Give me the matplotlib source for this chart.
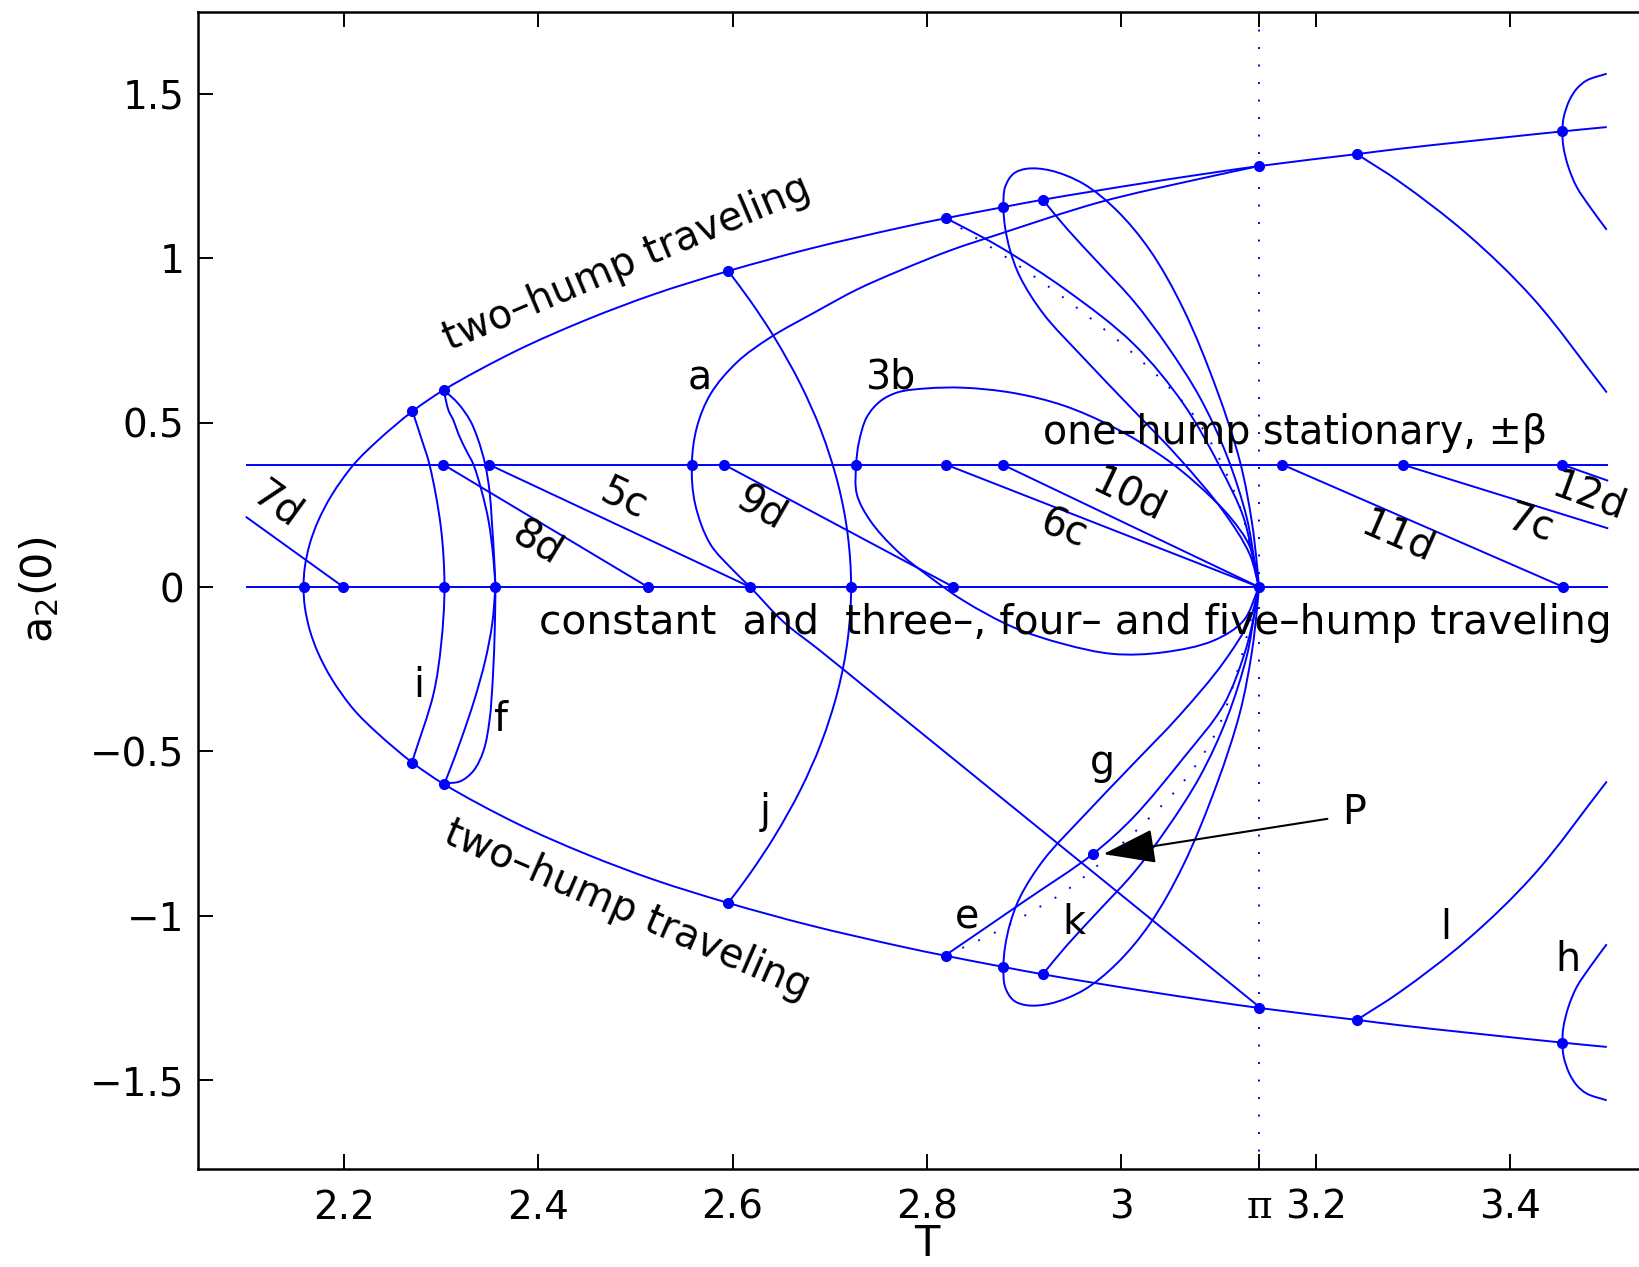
import numpy as np
import matplotlib.pyplot as plt
from matplotlib.path import Path
from matplotlib.patches import PathPatch

plt.rcParams['font.family'] = ['DejaVu Sans']

PI = np.pi
BETA = 0.372                # one-hump stationary level
T_START, T_END = 2.1, 3.5

# two-hump traveling branch (upper half; the lower half is its mirror image)
two_hump_T = [2.1586, 2.1599, 2.1649, 2.1735, 2.1877, 2.2102, 2.2350, 2.2704, 2.3036, 2.3780,
              2.4500, 2.5200, 2.5952, 2.6800, 2.7724, 2.8198, 2.8787, 2.9192, 3.0300, PI,
              3.2424, 3.2868, 3.4538, 3.4995]
two_hump_a = [0.0, 0.0600, 0.1300, 0.2000, 0.2800, 0.3724, 0.4454, 0.5336, 0.6005, 0.7190,
              0.8130, 0.8910, 0.9605, 1.0290, 1.0925, 1.1217, 1.1553, 1.1777, 1.2313, 1.2800,
              1.3164, 1.3328, 1.3855, 1.3986]

# branch i
i_T = [2.2707, 2.2800, 2.2882, 2.2999, 2.3036, 2.3002, 2.2923, 2.2707]
i_a = [0.5345, 0.4500, 0.3720, 0.1817, 0.0, -0.1730, -0.3250, -0.5280]

# branch f (two lenses)
f_up_outer_T = [2.3026, 2.3180, 2.3300, 2.3380, 2.3455, 2.3500, 2.3523, 2.3545, 2.3561]
f_up_outer_a = [0.6005, 0.5569, 0.5063, 0.4500, 0.3724, 0.2900, 0.2020, 0.1000, 0.0]
f_up_inner_T = [2.3026, 2.3078, 2.3129, 2.3180, 2.3260, 2.3334, 2.3420, 2.3489, 2.3535, 2.3561]
f_up_inner_a = [0.6005, 0.5367, 0.5063, 0.4650, 0.4150, 0.3724, 0.2900, 0.2020, 0.1000, 0.0]
f_lo_outer_T = [2.3561, 2.3554, 2.3534, 2.3499, 2.3438, 2.3335, 2.3197, 2.3036]
f_lo_outer_a = [0.0, -0.1225, -0.2746, -0.4064, -0.4977, -0.5586, -0.5910, -0.5971]
f_lo_inner_T = [2.3561, 2.3527, 2.3455, 2.3341, 2.3215, 2.3095, 2.3036]
f_lo_inner_a = [0.0, -0.1123, -0.2239, -0.3456, -0.4571, -0.5535, -0.5971]

# branch a (from the upper pi point round to the lower pi point)
a_T = [PI, 3.0811, 2.9782, 2.8753, 2.8239, 2.7724, 2.7283, 2.6844, 2.6383, 2.6046, 2.5775,
       2.5633, 2.5581, 2.5615, 2.5770, 2.6010, 2.6181, 2.6524, 2.6901, 2.7724, 2.9373, PI]
a_a = [1.2800, 1.2415, 1.1705, 1.0741, 1.0234, 0.9626, 0.9050, 0.8350, 0.7578, 0.6836, 0.5875,
       0.4859, 0.3724, 0.2527, 0.1310, 0.0499, 0.0, -0.1060, -0.1935, -0.3912, -0.7864, -1.2760]

# branch j (upper half, mirrored below)
j_T = [2.5956, 2.6180, 2.6433, 2.6697, 2.6910, 2.7085, 2.7184, 2.7220]
j_a = [0.9605, 0.8713, 0.7577, 0.6178, 0.4758, 0.3136, 0.1614, 0.0]

# loop 3b
b3_T = [PI, 3.1325, 3.1120, 3.0776, 3.0433, 2.9919, 2.9405, 2.8890, 2.8376, 2.8000, 2.7700,
        2.7520, 2.7381, 2.7300, 2.7272, 2.7278, 2.7416, 2.7690, 2.8033, 2.8376, 2.8890,
        2.9405, 2.9919, 3.0433, 3.0948, 3.1257, PI]
b3_a = [0.0, 0.1209, 0.2121, 0.3136, 0.3947, 0.4860, 0.5519, 0.5900, 0.6060, 0.6040, 0.5920,
        0.5650, 0.5164, 0.4400, 0.3724, 0.2832, 0.2020, 0.1107, 0.0296, -0.0414, -0.1225,
        -0.1732, -0.2036, -0.1986, -0.1631, -0.1022, 0.0]

# teardrop loop through the two-hump branch near T = 2.88 (upper; mirrored below)
loop_T = [PI, 3.1320, 3.1050, 3.0600, 3.0100, 2.9600, 2.9200, 2.8959, 2.8856, 2.8804, 2.8787,
          2.8804, 2.8890, 2.9027, 2.9268, 2.9610, 2.9953, 3.0296, 3.0639, 3.0982, 3.1222,
          3.1342, 3.1395, PI]
loop_a = [0.0, 0.1000, 0.2300, 0.3900, 0.5450, 0.7000, 0.8300, 0.9423, 1.0234, 1.0940, 1.1553,
          1.2161, 1.2567, 1.2719, 1.2668, 1.2262, 1.1451, 1.0234, 0.8450, 0.6000, 0.3800,
          0.2000, 0.0700, 0.0]

# branch from T = 2.919 into (pi, 0) (upper; mirrored below as k)
k_T = [2.9192, 2.9439, 2.9782, 3.0125, 3.0468, 3.0811, 3.1085, 3.1291, 3.1370, PI]
k_a = [1.1777, 1.0900, 0.9800, 0.8700, 0.7350, 0.5750, 0.4000, 0.2100, 0.0800, 0.0]

# branch from T = 2.82 into (pi, 0): upper one, and lower one (e) through P
c6_T = [2.8198, 2.8753, 2.9439, 3.0125, 3.0639, 3.1017, 3.1257, 3.1359, PI]
c6_a = [1.1217, 1.0336, 0.9018, 0.7395, 0.5570, 0.3643, 0.2121, 0.0800, 0.0]
e_T = [2.8198, 2.9000, 2.9706, 3.0125, 3.0639, 3.1050, 3.1270, 3.1370, PI]
e_a = [-1.1184, -0.9560, -0.8121, -0.7000, -0.5200, -0.3600, -0.2000, -0.0800, 0.0]

# dotted branches
dot_up_T = [2.8198, 2.8359, 2.8839, 2.9490, 3.0228, 3.0759, 3.1200, PI]
dot_up_a = [1.1217, 1.0894, 0.9981, 0.8612, 0.6817, 0.5164, 0.2600, 0.0]
dot_lo_T = [2.8198, 2.8376, 2.8736, 2.9062, 2.9405, 2.9713, 3.0296, 3.0674, 3.0982, 3.1200, PI]
dot_lo_a = [-1.1184, -1.0960, -1.0453, -0.9896, -0.9287, -0.8577, -0.6999, -0.5788, -0.4369,
            -0.2500, 0.0]

# branches l and h at the right edge (upper; mirrored below)
l_T = [3.2424, 3.2868, 3.3554, 3.4240, 3.4995]
l_a = [1.3164, 1.2312, 1.0742, 0.8765, 0.5914]
h_T = [3.4994, 3.4789, 3.4686, 3.4610, 3.4552, 3.4538, 3.4549, 3.4600, 3.4686, 3.4823, 3.4994]
h_a = [1.5609, 1.5406, 1.5153, 1.4798, 1.4291, 1.3855, 1.3378, 1.2770, 1.2161, 1.1553, 1.0863]

# straight connections (7d, 8d, 5c, 9d, 6c, 10d, 11d, 7c, 12d)
chord_T0 = [2.1000, 2.3026, 2.3496, 2.5914, 2.8198, 2.8780, 3.1658, 3.2896, 3.4538]
chord_a0 = [0.212, BETA, BETA, BETA, BETA, BETA, BETA, BETA, BETA]
chord_T1 = [2.1996, 2.5129, 2.6181, 2.8273, PI, PI, 3.4549, 3.5000, 3.5000]
chord_a1 = [0.0, 0.0, 0.0, 0.0, 0.0, 0.0, 0.0, 0.179, 0.324]

# bifurcation points
dots_zero_T = [2.1586, 2.1996, 2.3036, 2.3561, 2.5129, 2.6181, 2.7220, 2.8273, PI, 3.4549]
dots_beta_T = [2.3026, 2.3496, 2.5581, 2.5914, 2.7272, 2.8198, 2.8780, 3.1658, 3.2896, 3.4538]
dots_hump_T = [2.2707, 2.3036, 2.5952, 2.8198, 2.8787, 2.9192, PI, 3.2424, 3.4538]
dots_hump_a = [0.5345, 0.6005, 0.9605, 1.1217, 1.1553, 1.1777, 1.2800, 1.3164, 1.3855]
P_T, P_a = 2.9706, -0.8121

# labels
lab_text = ['a', '3b', '5c', '8d', '9d', '7d', '10d', '6c', '11d', '7c', '12d',
            'i', 'f', 'j', 'g', 'e', 'k', 'l', 'h', 'P']
lab_T = [2.566, 2.763, 2.488, 2.399, 2.629, 2.131, 3.008, 2.940, 3.284, 3.421, 3.481,
         2.277, 2.361, 2.634, 2.981, 2.841, 2.951, 3.334, 3.460, 3.239]
lab_a = [0.633, 0.636, 0.266, 0.133, 0.237, 0.248, 0.277, 0.173, 0.150, 0.190, 0.274,
         -0.302, -0.404, -0.684, -0.534, -1.005, -1.021, -1.037, -1.133, -0.686]
lab_rot = [0, 0, -25, -31, -30, -36, -25.5, -21, -23.5, -17.5, -20,
           0, 0, 0, 0, 0, 0, 0, 0, 0]

BLUE = '#0000ff'
LW = 1.4
DOTTED = (0, (1, 8))

fig = plt.figure(figsize=(16.39, 12.67), dpi=100)
ax = fig.add_axes([0.1208, 0.0773, 0.8895, 0.9136])
ax.set_xlim(2.05, 3.55)
ax.set_ylim(-1.77, 1.75)


def curve(T, a, ls='-'):
    """Smooth (centripetal Catmull-Rom) curve through the read points."""
    pts = ax.transData.transform(np.column_stack([T, a]))
    n = len(pts)
    P = np.vstack([2 * pts[0] - pts[1], pts, 2 * pts[-1] - pts[-2]])
    verts, codes = [pts[0]], [Path.MOVETO]
    for j in range(n - 1):
        p0, p1, p2, p3 = P[j], P[j + 1], P[j + 2], P[j + 3]
        d1 = max(np.linalg.norm(p1 - p0) ** 0.5, 1e-6)
        d2 = max(np.linalg.norm(p2 - p1) ** 0.5, 1e-6)
        d3 = max(np.linalg.norm(p3 - p2) ** 0.5, 1e-6)
        b1 = (d1**2 * p2 - d2**2 * p0 + (2 * d1**2 + 3 * d1 * d2 + d2**2) * p1) / (3 * d1 * (d1 + d2))
        b2 = (d3**2 * p1 - d2**2 * p3 + (2 * d3**2 + 3 * d3 * d2 + d2**2) * p2) / (3 * d3 * (d3 + d2))
        verts += [b1, b2, p2]
        codes += [Path.CURVE4] * 3
    verts = ax.transData.inverted().transform(np.array(verts))
    ax.add_patch(PathPatch(Path(verts, codes), fill=False, edgecolor=BLUE, lw=LW, ls=ls))


def mirrored(T, a):
    """Branch continued through its mirror image below a = 0 (joined at a = 0)."""
    T, a = np.asarray(T), np.asarray(a)
    if a[0] != 0:
        T, a = T[::-1], a[::-1]
    return np.concatenate([T[::-1], T[1:]]), np.concatenate([-a[::-1], a[1:]])


# horizontal branches
ax.plot([T_START, T_END], [0, 0], color=BLUE, lw=LW)
ax.plot([T_START, T_END], [BETA, BETA], color=BLUE, lw=LW)

curve(*mirrored(two_hump_T, two_hump_a))
curve(*mirrored(j_T, j_a))
for s in (1, -1):
    curve(loop_T, s * np.asarray(loop_a))
    curve(k_T, s * np.asarray(k_a))
    curve(l_T, s * np.asarray(l_a))
    curve(h_T, s * np.asarray(h_a))

curve(i_T, i_a)
curve(f_up_outer_T, f_up_outer_a)
curve(f_up_inner_T, f_up_inner_a)
curve(f_lo_outer_T, f_lo_outer_a)
curve(f_lo_inner_T, f_lo_inner_a)
curve(a_T, a_a)
curve(b3_T, b3_a)
curve(c6_T, c6_a)
curve(e_T, e_a)
curve(dot_up_T, dot_up_a, ls=DOTTED)
curve(dot_lo_T, dot_lo_a, ls=DOTTED)

for T0, a0, T1, a1 in zip(chord_T0, chord_a0, chord_T1, chord_a1):
    ax.plot([T0, T1], [a0, a1], color=BLUE, lw=LW)

ax.axvline(PI, color=BLUE, lw=LW, ls=DOTTED)

# dots
mk = dict(ls='none', marker='o', ms=7, color=BLUE, zorder=5)
ax.plot(dots_zero_T, np.zeros(len(dots_zero_T)), **mk)
ax.plot(dots_beta_T, np.full(len(dots_beta_T), BETA), **mk)
ax.plot(dots_hump_T, dots_hump_a, **mk)
ax.plot(dots_hump_T, -np.asarray(dots_hump_a), **mk)
ax.plot([P_T], [P_a], **mk)

# texts
FS = 28.5
ax.text(2.4918, 0.9825, 'two\u2013hump traveling', fontsize=FS, rotation=23,
        rotation_mode='anchor', ha='center', va='center')
ax.text(2.4918, -0.9825, 'two\u2013hump traveling', fontsize=FS, rotation=-23.5,
        rotation_mode='anchor', ha='center', va='center')
ax.text(2.9198, 0.435, 'one\u2013hump stationary, \u00b1\u03b2', fontsize=FS,
        ha='left', va='baseline')
ax.text(2.4009, -0.1427, 'constant  and  three\u2013, four\u2013 and five\u2013hump traveling',
        fontsize=29.3, ha='left', va='baseline')
for txt, T, a, r in zip(lab_text, lab_T, lab_a, lab_rot):
    ax.text(T, a, txt, fontsize=FS, rotation=r, rotation_mode='anchor',
            ha='center', va='center')

ax.annotate('', xy=(2.9816, -0.812), xytext=(3.212, -0.705),
            arrowprops=dict(arrowstyle='-|>,head_length=1.1,head_width=0.36',
                            color='k', lw=1.5, mutation_scale=30,
                            shrinkA=0, shrinkB=0))

# axes
ax.set_xticks([2.2, 2.4, 2.6, 2.8, 3.0, PI, 3.2, 3.4])
ax.set_xticklabels(['2.2', '2.4', '2.6', '2.8', '3', '\u03c0', '3.2', '3.4'])
ax.set_yticks([-1.5, -1, -0.5, 0, 0.5, 1, 1.5])
ax.set_yticklabels(['\u22121.5', '\u22121', '\u22120.5', '0', '0.5', '1', '1.5'])
for lbl in ax.get_xticklabels():
    if lbl.get_text() == '\u03c0':
        lbl.set_fontfamily(['DejaVu Serif'])
ax.tick_params(direction='in', length=11, width=1.4, top=True, right=True,
               labelsize=28)
ax.tick_params(axis='x', pad=14)
ax.tick_params(axis='y', pad=10)
for sp in ax.spines.values():
    sp.set_linewidth(1.8)

ax.set_xlabel('T', fontsize=30)
ax.xaxis.set_label_coords(0.5, -0.047)
ax.set_ylabel(r'a$_2$(0)', fontsize=31)
ax.yaxis.set_label_coords(-0.094, 0.5)

fig.savefig('out.png', dpi=100)
